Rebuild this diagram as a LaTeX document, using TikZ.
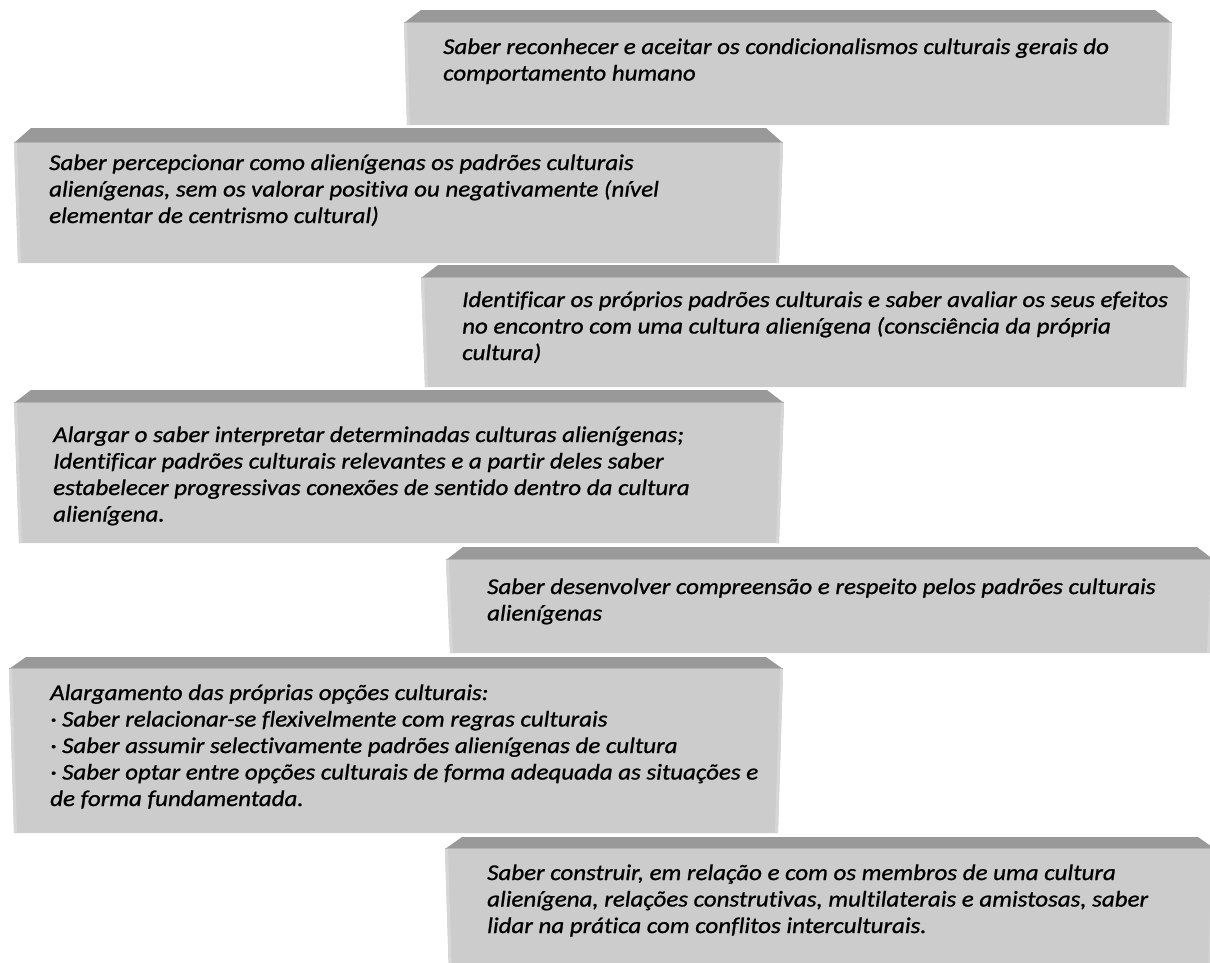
\documentclass[tikz,border=0pt]{standalone}
\usepackage{fontspec}
\setmainfont{Carlito}
\newfontfamily\boxfont{Carlito}[FakeStretch=1.11,FakeBold=1.0,Ligatures=NoCommon]
\definecolor{bevelgray}{HTML}{999999}
\definecolor{bodygray}{HTML}{CCCCCC}
\definecolor{bevelhi}{HTML}{B3B3B3}
\definecolor{edgehi}{HTML}{D6D6D6}
\tikzset{
  bevel/.style={fill=bevelgray},
  body/.style={fill=bodygray},
  txt/.style={anchor=base west, inner sep=0pt, font=\boxfont\fontsize{22.5}{26.5}\selectfont\itshape}
}
\newcommand\slab[6]{%
  \fill[bevel] ({#1+17},#3) -- ({#2-17},#3) -- (#2,#4) -- (#1,#4) -- cycle;
  \fill[body] (#1,#4) -- (#2,#4) -- ({#2-#6},#5) -- ({#1+#6},#5) -- cycle;
  \fill[bevelhi] (#1,#4) -- (#2,#4) -- (#2,{#4-1.5}) -- (#1,{#4-1.5}) -- cycle;
  \fill[edgehi] (#1,#4) -- ({#1+3},#4) -- ({#1+#6+3},#5) -- ({#1+#6},#5) -- cycle;
  \fill[edgehi] (#2,#4) -- ({#2-3},#4) -- ({#2-#6-3},#5) -- ({#2-#6},#5) -- cycle;
}
\newcommand\lns[1]{\vtop{\baselineskip=26.5pt\lineskiplimit=-100pt #1}}
\begin{document}
\begin{tikzpicture}[x=1pt,y=-1pt]
\useasboundingbox (0,0) rectangle (1210,962);
\slab{404}{1172}{10}{23}{125}{3}
\slab{14}{783}{128}{143}{263}{4}
\slab{421}{1190}{265}{278}{387}{4}
\slab{14}{784}{390}{403}{543}{5}
\slab{446}{1214}{547}{560}{653}{4}
\slab{9}{783}{657}{669}{833}{5}
\slab{445}{1215}{837}{849}{975}{4}

\node[txt] (t1) at (443,54) {\lns{\hbox{Saber reconhecer e aceitar os condicionalismos culturais gerais do}\hbox{comportamento humano}}};
\node[txt] (t2) at (49,170) {\lns{\hbox{Saber percepcionar como alienígenas os padrões culturais}\hbox{alienígenas, sem os valorar positiva ou negativamente (nível}\hbox{elementar de centrismo cultural)}}};
\node[txt] (t3) at (462,307) {\lns{\hbox{Identificar os próprios padrões culturais e saber avaliar os seus efeitos}\hbox{no encontro com uma cultura alienígena (consciência da própria}\hbox{cultura)}}};
\node[txt] (t4) at (53,442) {\lns{\hbox{Alargar o saber interpretar determinadas culturas alienígenas;}\hbox{Identificar padrões culturais relevantes e a partir deles saber}\hbox{estabelecer progressivas conexões de sentido dentro da cultura}\hbox{alienígena.}}};
\node[txt] (t5) at (487,594) {\lns{\hbox{Saber desenvolver compreensão e respeito pelos padrões culturais}\hbox{alienígenas}}};
\node[txt] (t6) at (50,700) {\lns{\hbox{Alargamento das próprias opções culturais:}\hbox{· Saber relacionar-se flexivelmente com regras culturais}\hbox{· Saber assumir selectivamente padrões alienígenas de cultura}\hbox{· Saber optar entre opções culturais de forma adequada as situações e}\hbox{de forma fundamentada.}}};
\node[txt] (t7) at (487,880) {\lns{\hbox{Saber construir, em relação e com os membros de uma cultura}\hbox{alienígena, relações construtivas, multilaterais e amistosas, saber}\hbox{lidar na prática com conflitos interculturais.}}};
\end{tikzpicture}
\end{document}
